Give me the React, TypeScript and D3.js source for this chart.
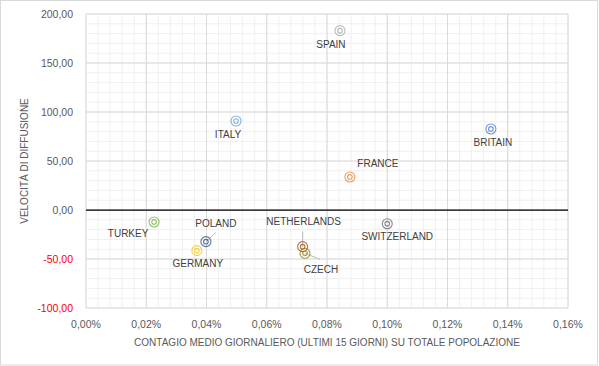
import React from 'react';
import * as d3 from 'd3';

const countries = ['SPAIN', 'ITALY', 'BRITAIN', 'FRANCE', 'TURKEY', 'POLAND', 'GERMANY', 'SWITZERLAND', 'NETHERLANDS', 'CZECH'];
// contagio medio giornaliero su popolazione (fraction)
const contagio = [0.000843, 0.000498, 0.001344, 0.000876, 0.000226, 0.000398, 0.000368, 0.001000, 0.000719, 0.000727];
const velocita = [183, 90.8, 82.7, 33.7, -12.2, -32.3, -41.5, -14, -37.4, -44.2];
const colors = ['#a5a5a5', '#5b9bd5', '#4472c4', '#ed7d31', '#70ad47', '#264478', '#ffc000', '#636363', '#9e480e', '#997300'];

const xTicks = [0, 0.0002, 0.0004, 0.0006, 0.0008, 0.001, 0.0012, 0.0014, 0.0016];
const yTicks = [-100, -50, 0, 50, 100, 150, 200];

// label placement relative to the marker, plus optional leader line end
const labelPos: { dx: number; dy: number; leader?: [number, number] }[] = [
  { dx: -9, dy: 13.5 },
  { dx: -8, dy: 13 },
  { dx: 2, dy: 14 },
  { dx: 28, dy: -13 },
  { dx: -26, dy: 12 },
  { dx: 10, dy: -18.5, leader: [10, -9] },
  { dx: 1, dy: 13 },
  { dx: 10, dy: 13 },
  { dx: 1, dy: -25, leader: [0, -15] },
  { dx: 16, dy: 16, leader: [15, 6] },
];

const it = d3.formatLocale({ decimal: ',', thousands: '.', grouping: [3], currency: ['', '€'], minus: '-' });
const fmtY = it.format('.2f');
const fmtX = it.format('.2%');

export default function App() {
  const W = 599, H = 366;
  const left = 86, right = 568, top = 14, bottom = 308;
  const x = d3.scaleLinear().domain([0, 0.0016]).range([left, right]);
  const y = d3.scaleLinear().domain([-100, 200]).range([bottom, top]);
  const minorX = d3.range(0, 0.0016 + 1e-9, 0.00004);
  const minorY = d3.range(-100, 200 + 1e-9, 10);
  const font = '"Liberation Sans", Arial, sans-serif';

  return (
    <svg width={W} height={H} style={{ position: 'absolute', left: 0, top: 0 }} fontFamily={font}>
      <rect x={0.5} y={0.5} width={597} height={364.5} fill="#fff" stroke="#d9d9d9" />
      {minorX.map((d, i) => (
        <line key={'mx' + i} x1={x(d)} x2={x(d)} y1={top} y2={bottom} stroke="#f0f0f0" />
      ))}
      {minorY.map((d, i) => (
        <line key={'my' + i} y1={y(d)} y2={y(d)} x1={left} x2={right} stroke="#f0f0f0" />
      ))}
      {xTicks.map((d, i) => (
        <line key={'gx' + i} x1={x(d)} x2={x(d)} y1={top} y2={bottom} stroke="#d9d9d9" />
      ))}
      {yTicks.map((d, i) => (
        <line key={'gy' + i} y1={y(d)} y2={y(d)} x1={left} x2={right} stroke="#d9d9d9" />
      ))}
      <line x1={left} x2={right} y1={y(0)} y2={y(0)} stroke="#000" strokeWidth={1.25} />
      {yTicks.map((d, i) => (
        <text key={'ty' + i} x={73} y={y(d)} textAnchor="end" dominantBaseline="central" fontSize={10.5} fill={d < 0 ? '#ff0000' : '#595959'}>
          {fmtY(d)}
        </text>
      ))}
      {xTicks.map((d, i) => (
        <text key={'tx' + i} x={x(d)} y={323.5} textAnchor="middle" dominantBaseline="central" fontSize={10.5} fill="#595959">
          {fmtX(d)}
        </text>
      ))}
      <text x={327} y={342} textAnchor="middle" dominantBaseline="central" fontSize={10} fill="#595959">
        CONTAGIO MEDIO GIORNALIERO (ULTIMI 15 GIORNI) SU TOTALE POPOLAZIONE
      </text>
      <text transform={`translate(24,${(top + bottom) / 2}) rotate(-90)`} textAnchor="middle" dominantBaseline="central" fontSize={10} fill="#595959">
        VELOCITÀ DI DIFFUSIONE
      </text>
      {countries.map((c, i) => {
        const cx = x(contagio[i]), cy = y(velocita[i]);
        const lp = labelPos[i];
        return (
          <g key={c}>
            {lp.leader && (
              <line x1={cx} y1={cy} x2={cx + lp.leader[0]} y2={cy + lp.leader[1]} stroke="#a6a6a6" strokeWidth={0.75} />
            )}
            <g opacity={0.75}>
              <circle cx={cx} cy={cy} r={5} fill="none" stroke={colors[i]} strokeWidth={1.1} />
              <circle cx={cx} cy={cy} r={2.3} fill="none" stroke={colors[i]} strokeWidth={1.1} />
            </g>
            <text x={cx + lp.dx} y={cy + lp.dy} textAnchor="middle" dominantBaseline="central" fontSize={10} fill="#404040">
              {c}
            </text>
          </g>
        );
      })}
    </svg>
  );
}
